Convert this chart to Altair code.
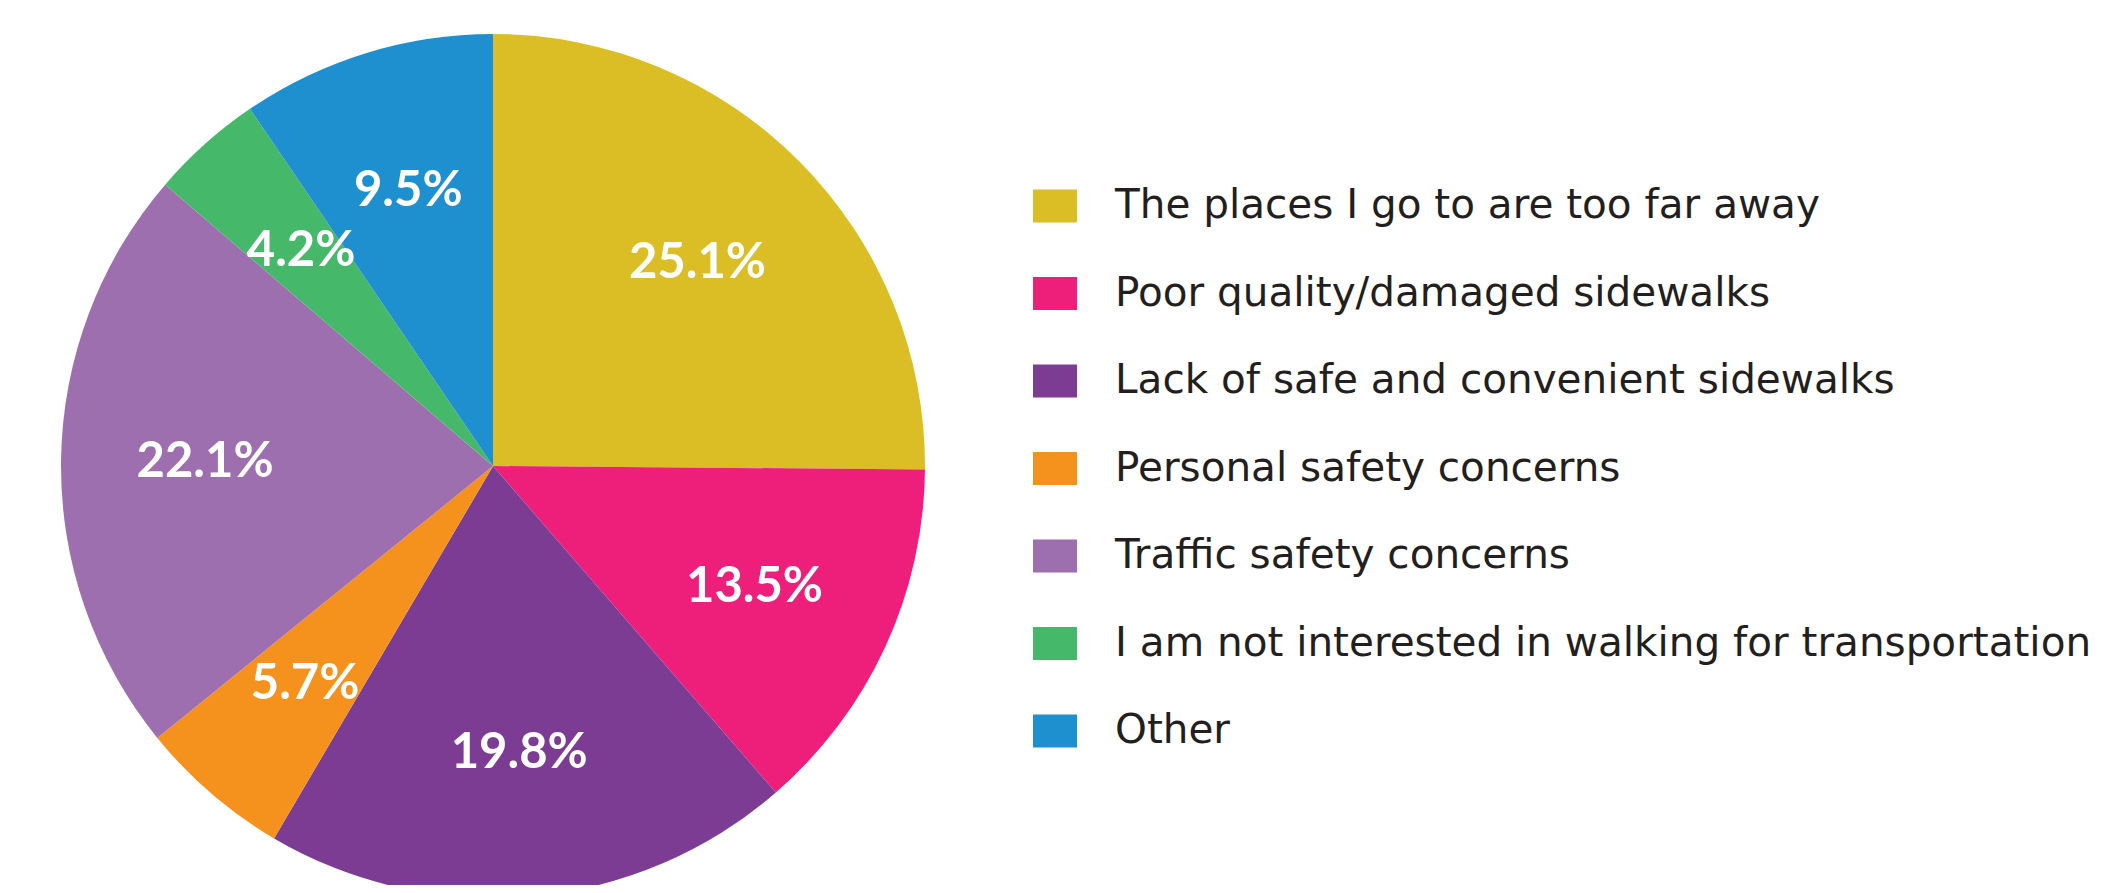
import altair as alt
import pandas as pd

categories = [
    "The places I go to are too far away",
    "Poor quality/damaged sidewalks",
    "Lack of safe and convenient sidewalks",
    "Personal safety concerns",
    "Traffic safety concerns",
    "I am not interested in walking for transportation",
    "Other",
]
values = [25.1, 13.5, 19.8, 5.7, 22.1, 4.2, 9.5]
labels = ["25.1%", "13.5%", "19.8%", "5.7%", "22.1%", "4.2%", "9.5%"]
colors = ["#DBBD25", "#ED1F7A", "#7D3C94", "#F5921E", "#9E6FAE", "#46B86A", "#1F90CF"]

df = pd.DataFrame({
    "category": categories,
    "value": values,
    "label": labels,
    "idx": list(range(len(categories))),
})

CX, CY, R = 485, 458, 432

base = alt.Chart(df).encode(
    theta=alt.Theta("value:Q", stack=True),
    order=alt.Order("idx:Q"),
)

arcs = base.mark_arc(outerRadius=R, stroke=None).encode(
    x=alt.value(CX),
    y=alt.value(CY),
    color=alt.Color(
        "category:N",
        scale=alt.Scale(domain=categories, range=colors),
        sort=categories,
        legend=alt.Legend(
            title=None,
            orient="none",
            legendX=1025,
            legendY=176,
            padding=0,
            symbolType="M-1,-0.75H1V0.75H-1Z",
            symbolSize=1936,
            symbolStrokeWidth=0,
            symbolOpacity=1,
            labelFont="DejaVu Sans",
            labelFontSize=40.5,
            labelColor="#231F20",
            labelOffset=38,
            labelLimit=1200,
            rowPadding=44.5,
        ),
    ),
)

texts = base.mark_text(
    radius=288,
    font="Lato",
    fontSize=49,
    fontWeight="bold",
    color="white",
    align="center",
    baseline="middle",
).encode(
    x=alt.value(CX),
    y=alt.value(CY),
    text="label:N",
)

chart = (
    alt.layer(arcs, texts)
    .properties(
        width=2100,
        height=877,
        padding=0,
        autosize=alt.AutoSizeParams(type="none"),
    )
    .configure_view(stroke=None)
)

chart.save("out.html", embed_options={"renderer": "svg", "actions": False})
